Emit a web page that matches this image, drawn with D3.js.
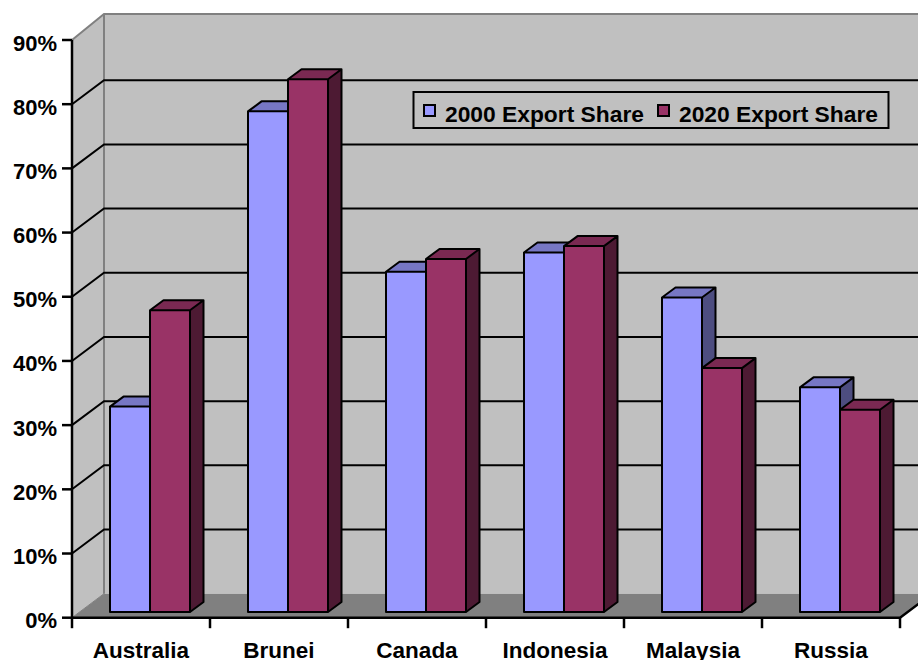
<!DOCTYPE html>
<html>
<head>
<meta charset="utf-8">
<style>
  body { margin: 0; background: #fff; }
  svg { display: block; font-family: "Liberation Sans", Arial, sans-serif; font-weight: bold; }
</style>
</head>
<body>
<div id="container"></div>
<script src="https://cdn.jsdelivr.net/npm/d3@7"></script>
<script>
// data
const categories = ["Australia", "Brunei", "Canada", "Indonesia", "Malaysia", "Russia"];
const seriesNames = ["2000 Export Share", "2020 Export Share"];
const share2000 = [0.32, 0.78, 0.53, 0.56, 0.49, 0.35];
const share2020 = [0.47, 0.83, 0.55, 0.57, 0.38, 0.315];
const yTicks = [0, 0.1, 0.2, 0.3, 0.4, 0.5, 0.6, 0.7, 0.8, 0.9];

const seriesValues = [share2000, share2020];
const fronts = ["#9999FF", "#993366"];
const tops = ["#7777C4", "#7A2952"];
const sides = ["#4D4D80", "#4D1A33"];

const width = 918, height = 660;
const left = 72, right = 900;
const wallDx = 32, wallDy = -24;   // depth of the walls
const barOx = 9, barOy = -5.7;     // bars sit a bit behind the front edge
const barDx = 13.5, barDy = -10;   // bar depth

const svg = d3.select("#container")
    .append("svg")
    .attr("width", width)
    .attr("height", height);

const x = d3.scaleBand().domain(categories).range([left, right]);
const xInner = d3.scaleBand().domain(seriesNames).range([0, 80]);
const y = d3.scaleLinear().domain([0, 0.9]).range([617.7, 40]);

const y0 = y(0), yTop = y(0.9);

// side wall
svg.append("polygon")
    .attr("points", [[left, y0], [left, yTop], [left + wallDx, yTop + wallDy - 2], [left + wallDx, y0 + wallDy]].join(" "))
    .attr("fill", "#C0C0C0");

// back wall
svg.append("rect")
    .attr("x", left + wallDx)
    .attr("y", yTop + wallDy - 2)
    .attr("width", width)
    .attr("height", y0 - yTop + 2)
    .attr("fill", "#C0C0C0");

// floor
svg.append("polygon")
    .attr("points", [[left, y0], [left + wallDx, y0 + wallDy], [right + wallDx, y0 + wallDy], [right, y0]].join(" "))
    .attr("fill", "#808080");

// wall edges
svg.append("path")
    .attr("d", `M${left},${yTop}L${left + wallDx},${yTop + wallDy - 2}H${width + 10}`
        + `M${left + wallDx},${yTop + wallDy - 2}V${y0 + wallDy}`)
    .attr("fill", "none")
    .attr("stroke", "#808080")
    .attr("stroke-width", 2);
svg.append("path")
    .attr("d", `M${left},${y0}L${left + wallDx},${y0 + wallDy}`)
    .attr("fill", "none")
    .attr("stroke", "#808080")
    .attr("stroke-width", 1);

// gridlines
svg.append("g")
    .selectAll("path")
    .data(yTicks.filter(d => d > 0 && d < 0.9))
    .join("path")
    .attr("d", d => `M${left},${y(d)}L${left + wallDx},${y(d) + wallDy}H${width + 10}`)
    .attr("fill", "none")
    .attr("stroke", "black")
    .attr("stroke-width", 2);

// bars
const groups = svg.append("g")
    .selectAll("g")
    .data(categories)
    .join("g")
    .attr("transform", c => `translate(${x(c) + (x.bandwidth() - 80) / 2 + barOx}, 0)`);

seriesNames.forEach((s, si) => {
    groups.each(function(c, ci) {
        const v = seriesValues[si][ci];
        const bx = xInner(s), bw = xInner.bandwidth();
        const yb = y0 + barOy, yt = y(v) + barOy;
        const g = d3.select(this);
        g.append("polygon")
            .attr("points", [[bx + bw, yt], [bx + bw + barDx, yt + barDy], [bx + bw + barDx, yb + barDy], [bx + bw, yb]].join(" "))
            .attr("fill", sides[si]);
        g.append("polygon")
            .attr("points", [[bx, yt], [bx + barDx, yt + barDy], [bx + bw + barDx, yt + barDy], [bx + bw, yt]].join(" "))
            .attr("fill", tops[si]);
        g.append("rect")
            .attr("x", bx)
            .attr("y", yt)
            .attr("width", bw)
            .attr("height", yb - yt)
            .attr("fill", fronts[si]);
        g.append("path")
            .attr("d", `M${bx},${yb}V${yt}L${bx + barDx},${yt + barDy}H${bx + bw + barDx}V${yb + barDy}L${bx + bw},${yb}Z`
                + `M${bx},${yt}H${bx + bw}V${yb}M${bx + bw},${yt}L${bx + bw + barDx},${yt + barDy}`)
            .attr("fill", "none")
            .attr("stroke", "black")
            .attr("stroke-width", 2)
            .attr("stroke-linejoin", "round");
    });
});

// y axis
const yAxis = svg.append("g");
yAxis.append("line")
    .attr("x1", left).attr("x2", left)
    .attr("y1", yTop).attr("y2", y0)
    .attr("stroke", "black")
    .attr("stroke-width", 2.5);
yAxis.selectAll("line.tick")
    .data(yTicks)
    .join("line")
    .attr("class", "tick")
    .attr("x1", left - 10).attr("x2", left)
    .attr("y1", d => y(d)).attr("y2", d => y(d))
    .attr("stroke", "black")
    .attr("stroke-width", 2.5);
yAxis.selectAll("text")
    .data(yTicks)
    .join("text")
    .attr("x", 57)
    .attr("y", d => y(d) + 10.5)
    .attr("text-anchor", "end")
    .attr("font-size", "22px")
    .text(d3.format(".0%"));

// x axis
const xAxis = svg.append("g");
xAxis.append("path")
    .attr("d", `M${left},${y0}H${right}L${right + wallDx},${y0 + wallDy}`)
    .attr("fill", "none")
    .attr("stroke", "black")
    .attr("stroke-width", 2.5);
xAxis.selectAll("line")
    .data(categories.map(c => x(c)).concat([right]))
    .join("line")
    .attr("x1", d => d).attr("x2", d => d)
    .attr("y1", y0).attr("y2", y0 + 10.5)
    .attr("stroke", "black")
    .attr("stroke-width", 2.5);
xAxis.selectAll("text")
    .data(categories)
    .join("text")
    .attr("x", c => x(c) + x.bandwidth() / 2)
    .attr("y", 657.5)
    .attr("text-anchor", "middle")
    .attr("font-size", "22.5px")
    .text(c => c);

// legend
const legend = svg.append("g");
legend.append("rect")
    .attr("x", 413.5).attr("y", 92)
    .attr("width", 475).attr("height", 36)
    .attr("fill", "#C0C0C0")
    .attr("stroke", "black")
    .attr("stroke-width", 2);
const legendX = [424, 658];
seriesNames.forEach((s, i) => {
    legend.append("rect")
        .attr("x", legendX[i]).attr("y", 105)
        .attr("width", 11).attr("height", 11)
        .attr("fill", fronts[i])
        .attr("stroke", "black")
        .attr("stroke-width", 2);
    legend.append("text")
        .attr("x", legendX[i] + 21)
        .attr("y", 121.5)
        .attr("font-size", "22.8px")
        .text(s);
});
</script>
</body>
</html>
